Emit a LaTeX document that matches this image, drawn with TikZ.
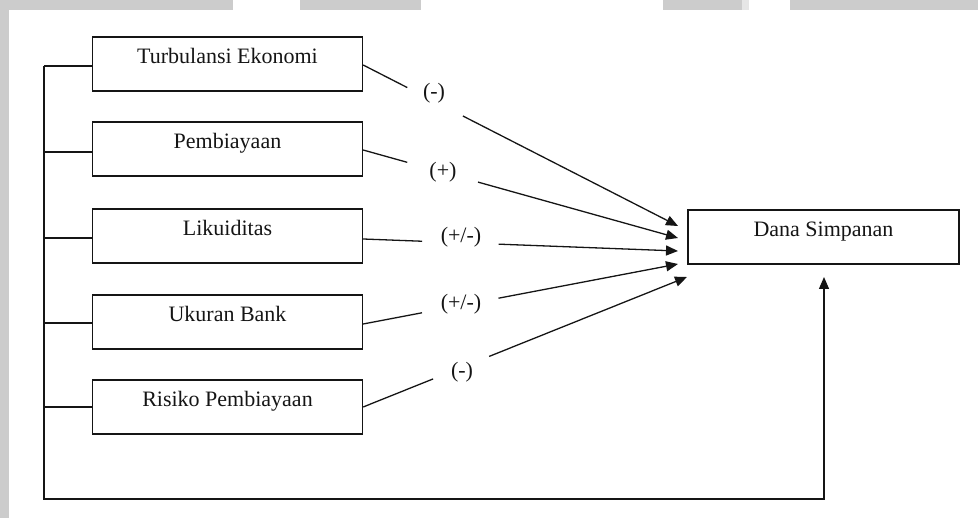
\documentclass[tikz,border=0pt]{standalone}
\usepackage{fontspec}
\setmainfont{Liberation Serif}
\usetikzlibrary{arrows.meta}
\definecolor{barg}{HTML}{CCCCCC}
\definecolor{barl}{HTML}{E6E6E6}
\definecolor{ink}{HTML}{151515}
\begin{document}
\begin{tikzpicture}[x=1pt,y=-1pt,
  box/.style={draw=ink, line width=1.3pt, minimum width=270pt, inner sep=0pt,
    text height=27pt, text depth=27pt, font=\fontsize{22}{26}\selectfont, text=ink},
  lbl/.style={inner sep=0pt, font=\fontsize{22}{26}\selectfont, text=ink},
  conn/.style={draw=ink, line width=1.3pt},
  arr/.style={conn, -{Triangle[length=12pt,width=10pt]}}]
\useasboundingbox (0,0) rectangle (978,518);
% gray margin bars
\fill[barg] (0,0) rectangle (233,10);
\fill[barg] (300,0) rectangle (421,10);
\fill[barg] (663,0) rectangle (742,10);
\fill[barl] (742,0) rectangle (749,10);
\fill[barg] (790,0) rectangle (978,10);
\fill[barg] (0,0) rectangle (9,518);
% boxes
\node[box] (b1) at (227.5,64) {Turbulansi Ekonomi};
\node[box] (b2) at (227.5,149) {Pembiayaan};
\node[box] (b3) at (227.5,236) {Likuiditas};
\node[box] (b4) at (227.5,322) {Ukuran Bank};
\node[box] (b5) at (227.5,407) {Risiko Pembiayaan};
\node[box, minimum width=271pt] (d) at (823.5,237) {Dana Simpanan};
% start points and tips
\coordinate (s1) at ([yshift=-1pt]b1.east);
\coordinate (s2) at ([yshift=-1pt]b2.east);
\coordinate (s3) at ([yshift=-3pt]b3.east);
\coordinate (s4) at ([yshift=-2pt]b4.east);
\coordinate (s5) at (b5.east);
\coordinate (t1) at (678,226);
\coordinate (t2) at (678,238);
\coordinate (t3) at (678,251);
\coordinate (t4) at (678,264);
\coordinate (t5) at (687,277);
% arrows with gaps for labels
\path (s1) -- (t1) coordinate[pos=0.14] (g1a) coordinate[pos=0.317] (g1b);
\path (s2) -- (t2) coordinate[pos=0.14] (g2a) coordinate[pos=0.365] (g2b);
\path (s3) -- (t3) coordinate[pos=0.187] (g3a) coordinate[pos=0.43] (g3b);
\path (s4) -- (t4) coordinate[pos=0.187] (g4a) coordinate[pos=0.43] (g4b);
\path (s5) -- (t5) coordinate[pos=0.216] (g5a) coordinate[pos=0.389] (g5b);
\draw[conn] (s1) -- (g1a); \draw[arr] (g1b) -- (t1);
\draw[conn] (s2) -- (g2a); \draw[arr] (g2b) -- (t2);
\draw[conn] (s3) -- (g3a); \draw[arr] (g3b) -- (t3);
\draw[conn] (s4) -- (g4a); \draw[arr] (g4b) -- (t4);
\draw[conn] (s5) -- (g5a); \draw[arr] (g5b) -- (t5);
% labels
\node[lbl] (l1) at (434,93) {(-)};
\node[lbl] (l2) at (443,172) {(+)};
\node[lbl] (l3) at (461,237) {(+/-)};
\node[lbl] (l4) at (461,304) {(+/-)};
\node[lbl] (l5) at (462,372) {(-)};
% left bracket and bottom return line
\coordinate (lt) at (44,66);
\coordinate (lb) at (44,499);
\coordinate (rb) at (824,499);
\coordinate (up) at (824,277);
\draw[arr] (lt) -- (lb) -- (rb) -- (up);
\draw[conn] ([yshift=-2pt]b1.west) coordinate (w1) -- (w1 -| lt);
\draw[conn] ([yshift=-3pt]b2.west) coordinate (w2) -- (w2 -| lt);
\draw[conn] ([yshift=-2pt]b3.west) coordinate (w3) -- (w3 -| lt);
\draw[conn] ([yshift=-1pt]b4.west) coordinate (w4) -- (w4 -| lt);
\draw[conn] (b5.west) coordinate (w5) -- (w5 -| lt);
\end{tikzpicture}
\end{document}
